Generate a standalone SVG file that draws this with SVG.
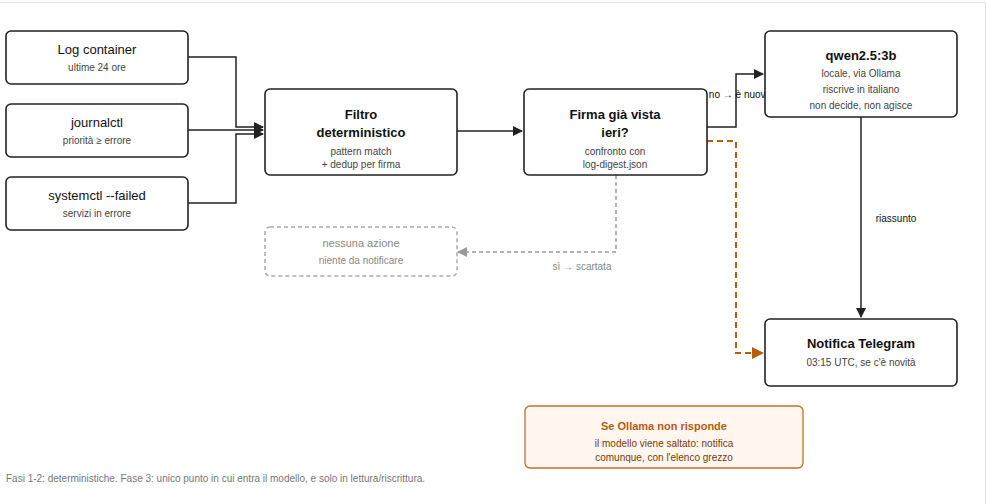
<svg xmlns="http://www.w3.org/2000/svg" width="987" height="504" viewBox="0 0 987 504">
<style>
text{font-family:"Liberation Sans",Arial,sans-serif;text-anchor:middle}
.n{fill:#fff;stroke:#222;stroke-width:1.6}
.t{font-size:13px;fill:#111}
.tb{font-size:13px;font-weight:bold;fill:#111}
.s{font-size:10px;fill:#444}
.e{fill:none;stroke:#222;stroke-width:1.5}
</style>
<defs>
<marker id="a" markerWidth="10" markerHeight="10" refX="9" refY="5" orient="auto" markerUnits="userSpaceOnUse"><path d="M0,0L10,5L0,10z" fill="#222"/></marker>
<marker id="ag" markerWidth="10" markerHeight="10" refX="9" refY="5" orient="auto" markerUnits="userSpaceOnUse"><path d="M0,0L10,5L0,10z" fill="#999"/></marker>
<marker id="ao" markerWidth="12" markerHeight="12" refX="11" refY="6" orient="auto" markerUnits="userSpaceOnUse"><path d="M0,0L12,6L0,12z" fill="#b85c0f"/></marker>
</defs>
<rect width="987" height="504" fill="#fff"/>
<path d="M0,2.5H985.5V504" fill="none" stroke="#e4e4e4"/>
<g id="edges">
<path class="e" d="M188,57H236V127H263" marker-end="url(#a)"/>
<path class="e" d="M188,130H263" marker-end="url(#a)"/>
<path class="e" d="M188,203H236V134H263" marker-end="url(#a)"/>
<path class="e" d="M457,131H522" marker-end="url(#a)"/>
<path class="e" d="M707,127H736V74H763" marker-end="url(#a)"/>
<text x="740" y="98" style="font-size:10px;fill:#111">no → è nuova</text>
<path d="M707,141H736V353H763" fill="none" stroke="#b85c0f" stroke-width="2" stroke-dasharray="6,4" marker-end="url(#ao)"/>
<path d="M616,175V252H458" fill="none" stroke="#999" stroke-width="1.5" stroke-dasharray="4,3" marker-end="url(#ag)"/>
<text x="582" y="270" style="font-size:10px;fill:#888">sì → scartata</text>
<path class="e" d="M861,117V317" stroke="#444" marker-end="url(#a)"/>
<text x="896" y="222" style="font-size:10px;fill:#111">riassunto</text>
</g>
<g id="log"><rect class="n" x="6" y="31" width="182" height="53" rx="5"/><text class="t" x="97" y="54">Log container</text><text class="s" x="97" y="71">ultime 24 ore</text></g>
<g id="journal"><rect class="n" x="6" y="104" width="182" height="53" rx="5"/><text class="t" x="97" y="127">journalctl</text><text class="s" x="97" y="144">priorità ≥ errore</text></g>
<g id="systemctl"><rect class="n" x="6" y="177" width="182" height="53" rx="5"/><text class="t" x="97" y="200">systemctl --failed</text><text class="s" x="97" y="217">servizi in errore</text></g>
<g id="filtro"><rect class="n" x="265" y="89" width="192" height="86" rx="5"/><text class="tb" x="361" y="119">Filtro</text><text class="tb" x="361" y="137">deterministico</text><text class="s" x="361" y="155">pattern match</text><text class="s" x="361" y="168">+ dedup per firma</text></g>
<g id="firma"><rect class="n" x="524" y="89" width="183" height="86" rx="5"/><text class="tb" x="615" y="119">Firma già vista</text><text class="tb" x="615" y="137">ieri?</text><text class="s" x="615" y="155">confronto con</text><text class="s" x="615" y="168">log-digest.json</text></g>
<g id="qwen"><rect class="n" x="765" y="31" width="192" height="86" rx="5"/><text class="tb" x="861" y="60">qwen2.5:3b</text><text class="s" x="861" y="77">locale, via Ollama</text><text class="s" x="861" y="93">riscrive in italiano</text><text class="s" x="861" y="109">non decide, non agisce</text></g>
<g id="notifica"><rect class="n" x="765" y="319" width="192" height="67" rx="5"/><text class="tb" x="861" y="348">Notifica Telegram</text><text class="s" x="861" y="366">03:15 UTC, se c'è novità</text></g>
<g id="nessuna"><rect x="265" y="227" width="192" height="49" rx="5" fill="#fff" stroke="#aaa" stroke-width="1.5" stroke-dasharray="4,3"/><text x="361" y="247" style="font-size:11px;fill:#888">nessuna azione</text><text x="361" y="264" style="font-size:10px;fill:#888">niente da notificare</text></g>
<g id="ollama"><rect x="525" y="406" width="278" height="62" rx="5" fill="#fef6ef" stroke="#c0702a" stroke-width="1.3"/><text x="664" y="430" style="font-size:11px;font-weight:bold;fill:#b85c0f">Se Ollama non risponde</text><text x="664" y="447" style="font-size:10px;fill:#7a3a05">il modello viene saltato: notifica</text><text x="664" y="461" style="font-size:10px;fill:#7a3a05">comunque, con l'elenco grezzo</text></g>
<text x="6" y="482" style="font-size:10px;fill:#777;text-anchor:start">Fasi 1-2: deterministiche. Fase 3: unico punto in cui entra il modello, e solo in lettura/riscrittura.</text>
</svg>
